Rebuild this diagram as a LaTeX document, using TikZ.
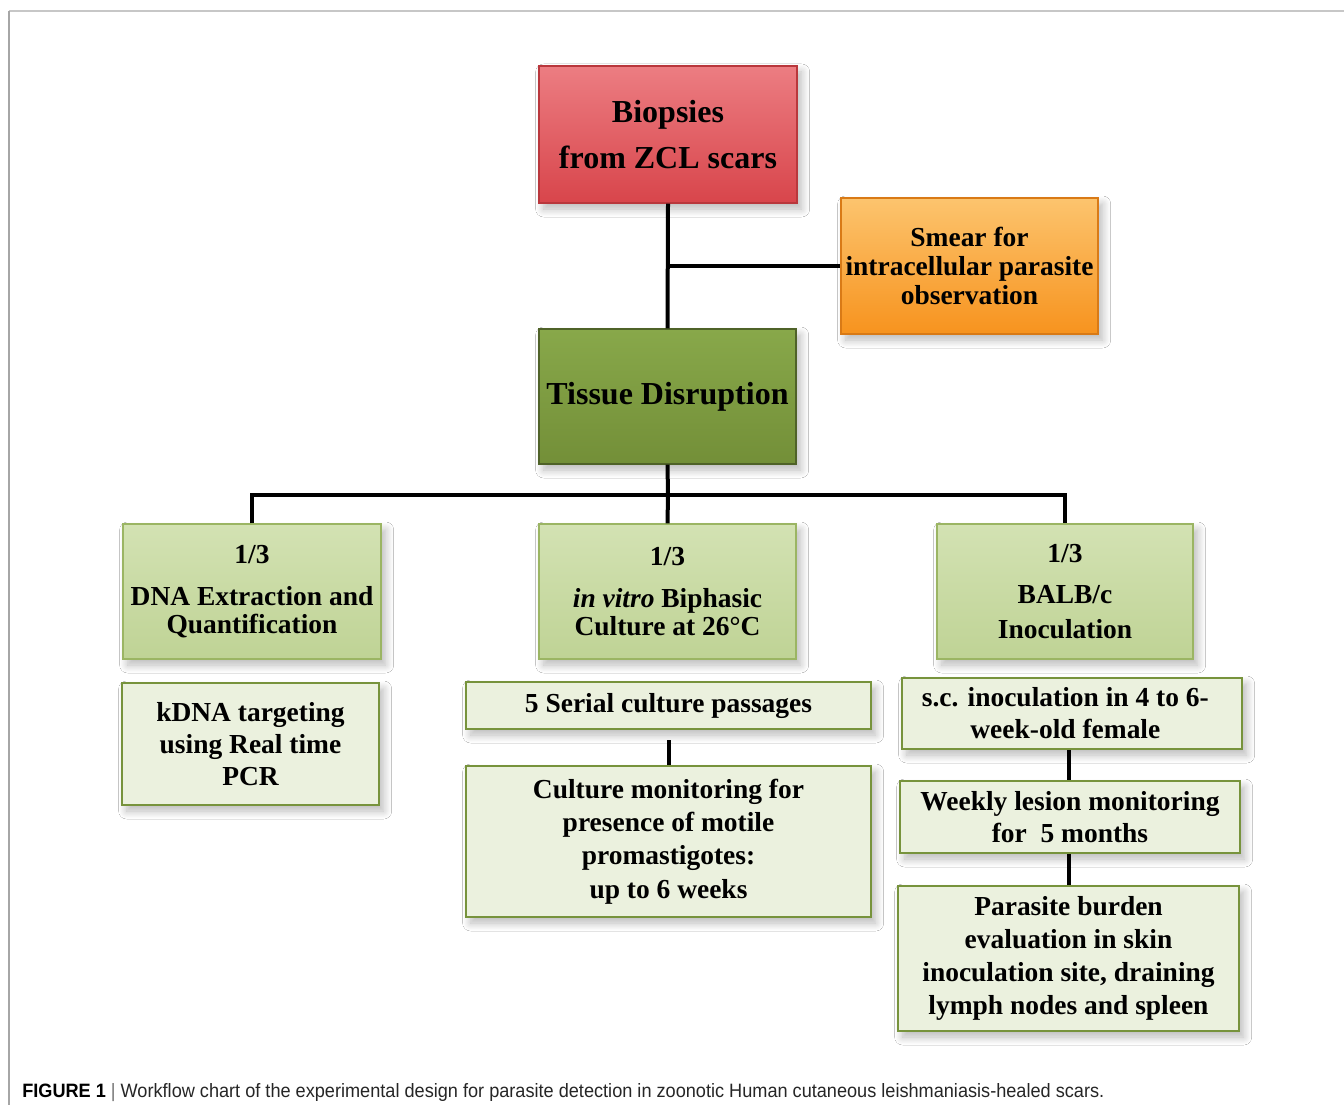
\documentclass[tikz,border=0pt]{standalone}
\usepackage{fontspec}
\usepackage{graphicx}
\setmainfont{Liberation Serif}
\newfontfamily\capfont{Liberation Sans}
\usetikzlibrary{shadows.blur}
\definecolor{redtop}{HTML}{EC7D82}
\definecolor{redbot}{HTML}{D8454B}
\definecolor{redline}{HTML}{B9373C}
\definecolor{ortop}{HTML}{FCC46E}
\definecolor{orbot}{HTML}{F7931E}
\definecolor{orline}{HTML}{D97A16}
\definecolor{gtop}{HTML}{88A84A}
\definecolor{gbot}{HTML}{738F38}
\definecolor{gline}{HTML}{4F6228}
\definecolor{lgtop}{HTML}{D3E2B3}
\definecolor{lgbot}{HTML}{BFD395}
\definecolor{lgline}{HTML}{9BB563}
\definecolor{pale}{HTML}{EBF1DE}
\definecolor{paleline}{HTML}{77933C}
\begin{document}
\begin{tikzpicture}[x=0.75pt,y=-0.75pt,
  every node/.style={inner sep=0pt, align=center, font=\bfseries},
  sz/.style 2 args={minimum width=#1*0.75pt, minimum height=#2*0.75pt},
  sh/.style={blur shadow={shadow xshift=3.5pt, shadow yshift=-4.5pt, shadow blur radius=6pt, shadow blur steps=12, shadow opacity=28}},
  redbox/.style={sh, draw=redline, line width=1pt, top color=redtop, bottom color=redbot},
  orbox/.style={sh, draw=orline, line width=1pt, top color=ortop, bottom color=orbot},
  gbox/.style={sh, draw=gline, line width=1pt, top color=gtop, bottom color=gbot},
  lgbox/.style={sh, draw=lgline, line width=1pt, top color=lgtop, bottom color=lgbot},
  palebox/.style={sh, draw=paleline, line width=1.5pt, fill=pale},
  bigtxt/.style={font=\bfseries\fontsize{24}{35}\selectfont},
  smtxt/.style={font=\bfseries\fontsize{20.6}{#1}\selectfont},
  conn/.style={draw=black, line width=3pt}
]
\useasboundingbox (0,0) rectangle (1344,1105);
\fill[white] (0,0) rectangle (1344,1105);
\draw[black!22, line width=1.2pt] (1344,11) -- (9,11);
\draw[black!35, line width=1.2pt] (9,11) -- (9,1105);

% boxes
\node[redbox, sz={258}{137}, bigtxt] (bio) at (668,134.5) {Biopsies\\from ZCL scars};
\node[orbox, sz={257}{136}, smtxt=21.75pt] (smear) at (969.5,266) {Smear for\\intracellular parasite\\observation};
\node[gbox, sz={257}{135}, bigtxt] (tis) at (667.5,396.5) {Tissue Disruption};

\node[lgbox, sz={258}{135}, smtxt=21pt] (dna) at (252,591.5) {1/3\\[11pt]DNA Extraction and\\Quantification};
\node[lgbox, sz={257}{135}, smtxt=21pt] (vitro) at (667.5,591.5) {1/3\\[11pt]\textit{in vitro} Biphasic\\Culture at 26\textdegree C};
\node[lgbox, sz={256}{135}, smtxt=26.25pt] (balb) at (1065,591.5) {1/3\\[5pt]BALB/c\\Inoculation};

\node[palebox, sz={257}{122}, smtxt=24pt] (kdna) at (250.5,744) {kDNA targeting\\using Real time\\PCR};
\node[palebox, sz={405}{47}, smtxt=24pt] (serial) at (668.5,705.5) {5 Serial culture passages};
\node[palebox, sz={405}{151}, smtxt=25pt] (culture) at (668.5,841.5) {Culture monitoring for\\presence of motile\\promastigotes:\\up to 6 weeks};
\node[palebox, sz={340}{71}, smtxt=24pt] (sc) at (1072,713.5) {s.c. inoculation in 4 to 6-\hspace*{10pt}\\week-old female\hspace*{10pt}};
\node[palebox, sz={340}{72}, smtxt=24pt] (weekly) at (1070,817) {Weekly lesion monitoring\\for\enspace 5 months};
\node[palebox, sz={341}{145}, smtxt=24.75pt] (para) at (1068.5,958.5) {Parasite burden\\evaluation in skin\\inoculation site, draining\\lymph nodes and spleen};

% connectors
\coordinate (hub) at (668,495);
\draw[conn] (bio.south) -- (tis.north);
\draw[conn] (bio.south |- smear.west) -- (smear.west);
\draw[conn] (tis.south) -- (hub);
\draw[conn] (dna.north) -- (dna.north |- hub) -- (balb.north |- hub) -- (balb.north);
\draw[conn] (hub) -- (vitro.north);
\draw[conn] ([yshift=-7.5pt]serial.south) -- (culture.north);
\draw[conn] (para.north |- sc.south) -- (para.north |- weekly.north);
\draw[conn] (para.north |- weekly.south) -- (para.north);

% caption
\node[anchor=base west, font=\capfont\mdseries] (cap) at (22,1097) {\resizebox{811.5pt}{\height}{\fontsize{14.5}{16}\selectfont\textbf{FIGURE 1} {\color{black!55}|} \color{black!85}Workflow chart of the experimental design for parasite detection in zoonotic Human cutaneous leishmaniasis-healed scars.}};
\end{tikzpicture}
\end{document}
